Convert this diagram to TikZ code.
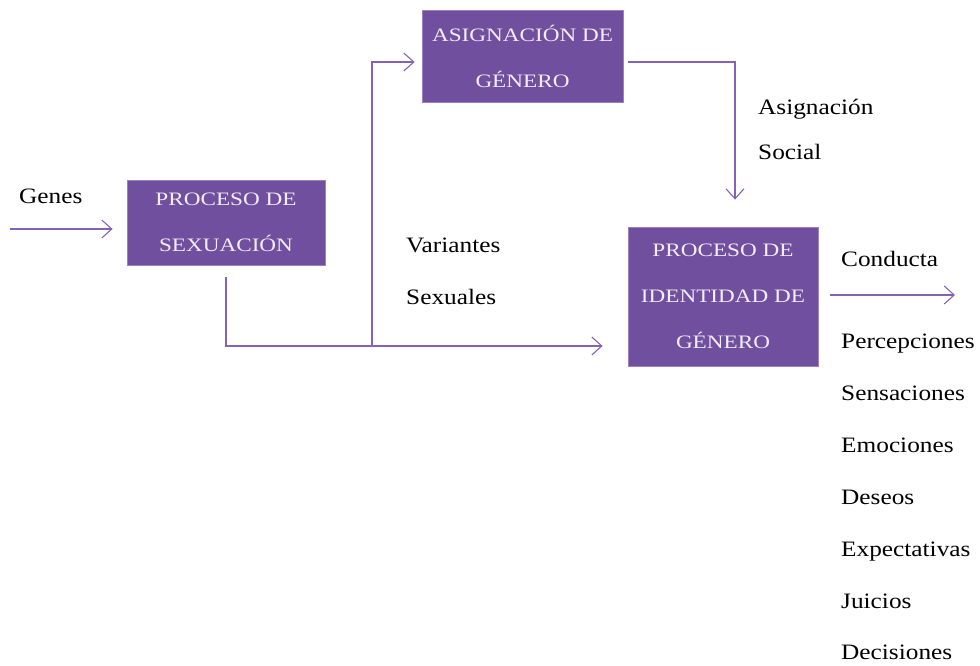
\documentclass[tikz,border=0pt]{standalone}
\usepackage{fontspec}
\setmainfont{Liberation Serif}
\newfontfamily\boxfont{Liberation Serif}[FakeStretch=1.22]
\newfontfamily\lblfont{Liberation Serif}[FakeStretch=1.15]
\usetikzlibrary{arrows.meta}
\definecolor{procfill}{HTML}{70509E}
\definecolor{procedge}{HTML}{9A82C0}
\definecolor{proctext}{HTML}{F2ECF8}
\definecolor{flowline}{HTML}{8462B4}

\begin{document}
\begin{tikzpicture}[x=1pt,y=-1pt,
proc/.style={draw=procedge, fill=procfill, text=proctext, line width=0.8pt, align=center,
  inner sep=0pt, font={\boxfont\fontsize{19}{46}\selectfont}},
lbl/.style={anchor=base west, inner sep=0pt, font={\lblfont\fontsize{22}{25}\selectfont}},
flow/.style={draw=flowline, line width=1.1pt, -{Straight Barb[length=10pt,width=18pt,line width=1.1pt]}}]

\useasboundingbox (0,0) rectangle (980,666);

% boxes
\node[proc, minimum width=198pt, minimum height=85pt] (sex) at (226,222.5) {PROCESO DE\\SEXUACIÓN};
\node[proc, minimum width=201pt, minimum height=92pt] (asig) at (522.5,56) {ASIGNACIÓN DE\\GÉNERO};
\node[proc, minimum width=190pt, minimum height=139pt] (ident) at (723,296.5) {PROCESO DE\\IDENTIDAD DE\\GÉNERO};

% labels
\node[lbl] (genes) at (19,204) {Genes};
\node[lbl] (asoc1) at (758,115) {Asignación};
\node[lbl] (asoc2) at (758,160) {Social};
\node[lbl] (var1) at (406,252) {Variantes};
\node[lbl] (var2) at (406,304) {Sexuales};

\foreach \txt/\ypos [count=\i from 0] in {Conducta/266,Percepciones/348,Sensaciones/400,Emociones/452,Deseos/504,Expectativas/556,Juicios/608,Decisiones/659}
  \node[lbl] (out-\i) at (841,\ypos) {\txt};

% connectors
\coordinate (gin) at (10,229);
\coordinate (junc) at (372,346);
\coordinate (bend) at (735,62);
\coordinate (gout) at (955,295);

\draw[flow, shorten >=14pt] (gin) -- (gin -| sex.west);
\draw[flow, shorten <=12pt, shorten >=25pt] (sex.south) |- (junc) -- (junc -| ident.west);
\draw[flow, shorten >=7pt] (junc) |- (asig.west |- bend);
\draw[flow, shorten <=5pt, shorten >=27pt] (asig.east |- bend) -- (bend) -- (bend |- ident.north);
\draw[flow, shorten <=12pt] (ident.east |- gout) -- (gout);
\end{tikzpicture}
\end{document}
